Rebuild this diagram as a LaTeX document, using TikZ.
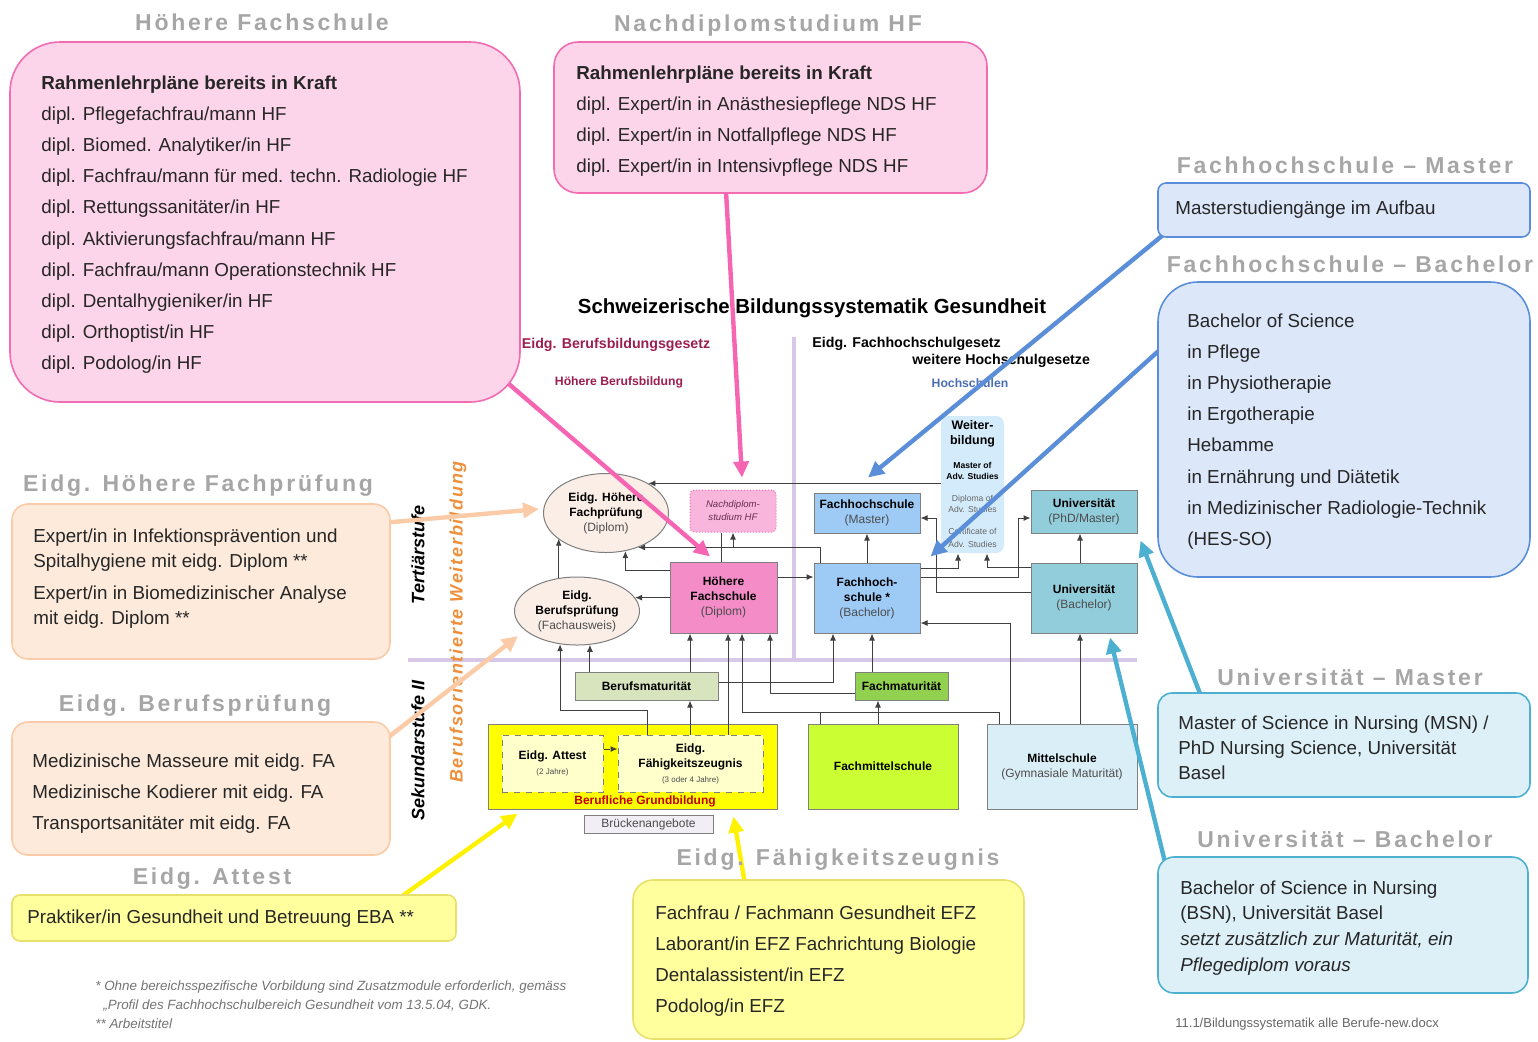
\documentclass[tikz,border=0pt]{standalone}
\usepackage{fontspec}
\setmainfont{Liberation Sans}
\usetikzlibrary{arrows.meta,shapes.geometric}

\definecolor{pinkfill}{HTML}{FDD5EB}
\definecolor{pinkline}{HTML}{F36BB0}
\definecolor{pinkarrow}{HTML}{F665B2}
\definecolor{bluefill}{HTML}{DCE8FA}
\definecolor{blueline}{HTML}{5A8ED8}
\definecolor{tealfill}{HTML}{DDF0F8}
\definecolor{tealline}{HTML}{4DB0D0}
\definecolor{peachfill}{HTML}{FDEADB}
\definecolor{peachline}{HTML}{FBCBA8}
\definecolor{yelfill}{HTML}{FFFF9E}
\definecolor{yelline}{HTML}{E8E06A}
\definecolor{titlegray}{HTML}{A6A6A6}
\definecolor{purp}{HTML}{D6C8E6}
\definecolor{maroon}{HTML}{9B1E50}
\definecolor{hsblue}{HTML}{4A6EB5}
\definecolor{orangetxt}{HTML}{EE8F3C}
\definecolor{nodeline}{HTML}{7F7F7F}
\definecolor{ellfill}{HTML}{FBEEE6}
\definecolor{ndsfill}{HTML}{F8B6DC}
\definecolor{ndstext}{HTML}{6A2D55}
\definecolor{hffill}{HTML}{F48CC8}
\definecolor{fhfill}{HTML}{9DCBF6}
\definecolor{wbfill}{HTML}{D3EBFB}
\definecolor{unifill}{HTML}{92CDDC}
\definecolor{bmfill}{HTML}{D7E4BD}
\definecolor{fmfill}{HTML}{92D050}
\definecolor{bgfill}{HTML}{FFFF00}
\definecolor{attfill}{HTML}{FFFFCC}
\definecolor{bglabel}{HTML}{C00000}
\definecolor{brufill}{HTML}{F2EEF6}
\definecolor{fmsfill}{HTML}{CCFF33}
\definecolor{msfill}{HTML}{DAEEF8}

\pgfdeclarelayer{front}
\pgfsetlayers{main,front}

\newcommand{\paren}[1]{\textcolor{black!70}{#1}}

\tikzset{
  sbox/.style={draw=nodeline, line width=0.5pt, inner sep=0pt, align=center, font=\fontsize{6}{7.5}\selectfont},
  conn/.style={draw=black!75, line width=0.5pt, -{Latex[length=3.5pt,width=3pt]}},
  plain/.style={draw=black!75, line width=0.5pt},
  fat/.style={line width=2.2pt, -{Triangle[length=8pt,width=7.5pt]}},
  cbox/.style={line width=0.8pt, inner sep=0pt},
  ctext/.style={anchor=north west, align=left, inner sep=0pt, text=black!85, font=\fontsize{9.4}{15.6}\selectfont},
  ctitle/.style={inner sep=0pt, text=titlegray, font=\fontsize{11.5}{13}\selectfont\bfseries\addfontfeatures{LetterSpace=12}},
  lawtxt/.style={inner sep=0pt, font=\fontsize{7.1}{8}\selectfont\bfseries},
  stufe/.style={inner sep=0pt, rotate=90, font=\fontsize{9}{10}\selectfont\bfseries\itshape},
  foot/.style={anchor=west, inner sep=0pt, text=black!55, font=\fontsize{6.7}{8}\selectfont\itshape},
}

\begin{document}
\begin{tikzpicture}[x=0.5pt,y=-0.5pt]
\useasboundingbox (0,0) rectangle (1538,1041);

\draw[purp, line width=2pt] (408,660) -- (1137,660);
\draw[purp, line width=2pt] (794,337) -- (794,660);

\node[inner sep=0pt, font=\fontsize{10.2}{12}\selectfont\bfseries] (title) at (812,308) {Schweizerische Bildungssystematik Gesundheit};
\node[lawtxt, text=maroon] (bbg) at (616,345) {Eidg. Berufsbildungsgesetz};
\node[lawtxt, text=maroon, font=\fontsize{6.1}{7}\selectfont\bfseries] (hbb) at (619,382) {Höhere Berufsbildung};
\node[lawtxt, anchor=west] (fhg) at (812,344) {Eidg. Fachhochschulgesetz};
\node[lawtxt, anchor=west] (whg) at (912,361) {weitere Hochschulgesetze};
\node[lawtxt, text=hsblue, font=\fontsize{6.1}{7}\selectfont\bfseries] (hs) at (970,383) {Hochschulen};
\node[stufe] (tert) at (418,555) {Tertiärstufe};
\node[stufe] (sek) at (418,750) {Sekundarstufe II};
\node[stufe, text=orangetxt, font=\fontsize{9}{10}\selectfont\bfseries\itshape\addfontfeatures{LetterSpace=10}] (bow) at (458,622) {Berufsorientierte Weiterbildung};

\node[sbox, ellipse, fill=ellfill, minimum width=62.5pt, minimum height=39.5pt] (hfp) at (606,513) {\textbf{Eidg. Höhere}\\\textbf{Fachprüfung}\\\paren{(Diplom)}};
\node[sbox, ellipse, fill=ellfill, minimum width=62.5pt, minimum height=34pt] (bp) at (577,611) {\textbf{Eidg.}\\\textbf{Berufsprüfung}\\\paren{(Fachausweis)}};
\node[sbox, draw=pinkline, densely dotted, fill=ndsfill, rounded corners=2pt, minimum width=43pt, minimum height=21pt, text=ndstext, font=\fontsize{4.8}{6.5}\selectfont\itshape] (nds) at (733,511) {Nachdiplom-\\studium HF};
\node[sbox, fill=hffill, minimum width=53.5pt, minimum height=35.5pt] (hf) at (723.5,597.5) {\textbf{Höhere}\\\textbf{Fachschule}\\\paren{(Diplom)}};
\node[sbox, fill=fhfill, minimum width=53pt, minimum height=20pt] (fhm) at (867,513) {\textbf{Fachhochschule}\\\paren{(Master)}};
\node[sbox, fill=fhfill, minimum width=53pt, minimum height=35pt] (fhb) at (867,598) {\textbf{Fachhoch-}\\\textbf{schule *}\\\paren{(Bachelor)}};
\node[sbox, draw=none, fill=wbfill, rounded corners=4pt, minimum width=31.5pt, minimum height=68.5pt, font=\fontsize{6.2}{7.5}\selectfont] (wb) at (972.5,484.5)
  {\textbf{Weiter-}\\\textbf{bildung}\\[4.5pt]{\fontsize{4.3}{5}\selectfont\bfseries Master of}\\[-2pt]{\fontsize{4.3}{5}\selectfont\bfseries Adv. Studies}\\[3.5pt]{\fontsize{4.3}{5}\selectfont\color{black!60}Diploma of}\\[-2pt]{\fontsize{4.3}{5}\selectfont\color{black!60}Adv. Studies}\\[3.5pt]{\fontsize{4.3}{5}\selectfont\color{black!60}Certificate of}\\[-1pt]{\fontsize{4.3}{5}\selectfont\color{black!60}Adv. Studies}};
\node[sbox, fill=unifill, minimum width=53pt, minimum height=21.5pt] (uphd) at (1084,511.5) {\textbf{Universität}\\\paren{(PhD/Master)}};
\node[sbox, fill=unifill, minimum width=53pt, minimum height=35pt] (ub) at (1084,598) {\textbf{Universität}\\\paren{(Bachelor)}};
\node[sbox, fill=bmfill, minimum width=71.5pt, minimum height=14pt] (bm) at (646.5,686) {\textbf{Berufsmaturität}};
\node[sbox, fill=fmfill, minimum width=46.5pt, minimum height=14pt] (fm) at (901.5,686) {\textbf{Fachmaturität}};
\node[sbox, fill=bgfill, minimum width=144.5pt, minimum height=42.5pt] (bg) at (632.5,766.5) {};
\node[inner sep=0pt, text=bglabel, font=\fontsize{6}{7}\selectfont\bfseries] (bgl) at (645,801) {Berufliche Grundbildung};
\node[sbox, dashed, fill=attfill, minimum width=50.5pt, minimum height=28.5pt] (att) at (552.5,763.5) {\textbf{Eidg. Attest}\\{\fontsize{4}{5}\selectfont\paren{(2 Jahre)}}};
\node[sbox, dashed, fill=attfill, minimum width=72.5pt, minimum height=28.5pt] (efz) at (690.5,763.5) {\textbf{Eidg.}\\\textbf{Fähigkeitszeugnis}\\{\fontsize{4}{5}\selectfont\paren{(3 oder 4 Jahre)}}};
\node[sbox, fill=brufill, minimum width=64.5pt, minimum height=9pt] (bru) at (648.5,824) {\paren{Brückenangebote}};
\node[sbox, fill=fmsfill, minimum width=75pt, minimum height=42.5pt] (fms) at (883,766.5) {\textbf{Fachmittelschule}};
\node[sbox, fill=msfill, minimum width=75pt, minimum height=42.5pt] (ms) at (1062,766.5) {\textbf{Mittelschule}\\\paren{(Gymnasiale Maturität)}};

\draw[conn] (wb.west |- hfp.35) -- (hfp.35);
\draw[conn] (fhb.north -| 820,0) |- (hfp.-47);
\draw[conn] (nds.south |- hfp.-47) -- (nds.south);
\draw[plain] (hf.north -| 721,0) -- (nds.south -| 721,0);
\draw[conn] (hf.west |- 0,570) -| (hfp.-63);
\draw[conn] (hf.west |- bp.13) -- (bp.13);
\draw[conn] (bp.119) -- (bp.119 |- hfp.-152);
\draw[conn] (hf.east |- 0,577) -- (fhb.west |- 0,577);
\draw[conn] (fhb.north) -- (fhm.south);
\draw[conn] (fhb.east |- 0,568) -| (wb.south -| 958,0);
\draw[conn] (fhb.east |- 0,577) -| (1018,518) -- (uphd.west |- 0,518);
\draw[conn] (ub.west |- 0,567) -| (wb.south -| 987,0);
\draw[conn] (ub.west |- 0,592) -| (936,518) -- (fhm.east |- 0,518);
\draw[conn] (ms.north -| 1010,0) |- (fhb.east |- 0,623);
\draw[conn] (ub.north -| 1080,0) -- (uphd.south -| 1080,0);
\draw[conn] (ms.north -| 1080,0) -- (ub.south -| 1080,0);
\draw[conn] (ms.north -| 999,0) |- (742,712) -- (hf.south -| 742,0);
\draw[plain] (fms.north -| 820,0) -- (820,712);
\draw[conn] (fms.north -| 878,0) -- (fm.south -| 878,0);
\draw[conn] (fm.west |- 0,693) -| (hf.south -| 770,0);
\draw[conn] (bm.east |- 0,682) -| (fhb.south -| 833,0);
\draw[conn] (fm.north -| 872,0) -- (fhb.south -| 872,0);
\draw[conn] (bm.north -| 690,0) -- (hf.south -| 690,0);
\draw[conn] (bm.north -| bp.-69) -- (bp.-69);
\draw[conn] (efz.north -| 647,0) |- (bp.-117 |- 0,710) -- (bp.-117);
\draw[conn] (efz.north -| 690,0) -- (bm.south -| 690,0);
\draw[conn] (efz.north -| 728,0) -- (hf.south -| 728,0);
\draw[conn, dashed] (att.east |- 0,749) -- (efz.west |- 0,749);

\node[foot] (fn1) at (95,987) {* Ohne bereichsspezifische Vorbildung sind Zusatzmodule erforderlich, gemäss};
\node[foot] (fn2) at (103,1005) {„Profil des Fachhochschulbereich Gesundheit vom 13.5.04, GDK.};
\node[foot] (fn3) at (95,1024) {** Arbeitstitel};
\node[anchor=west, inner sep=0pt, text=black!60, font=\fontsize{6.5}{8}\selectfont] (file) at (1175,1024) {11.1/Bildungssystematik alle Berufe-new.docx};

\begin{pgfonlayer}{front}
\node[cbox, draw=pinkline, fill=pinkfill, rounded corners=25pt, minimum width=255pt, minimum height=180pt] (cHF) at (265,222) {};
\node[cbox, draw=pinkline, fill=pinkfill, rounded corners=12pt, minimum width=216.5pt, minimum height=75.5pt] (cNDS) at (770.5,117.5) {};
\node[cbox, draw=blueline, fill=bluefill, rounded corners=4pt, minimum width=186pt, minimum height=27pt] (cFHM) at (1344,210) {};
\node[cbox, draw=blueline, fill=bluefill, rounded corners=20pt, minimum width=186pt, minimum height=147.5pt] (cFHB) at (1344,429.5) {};
\node[cbox, draw=tealline, fill=tealfill, rounded corners=7pt, minimum width=186pt, minimum height=52pt] (cUM) at (1344,745) {};
\node[cbox, draw=tealline, fill=tealfill, rounded corners=8pt, minimum width=185pt, minimum height=68pt] (cUB) at (1343,925) {};
\node[cbox, draw=peachline, fill=peachfill, rounded corners=8pt, minimum width=189pt, minimum height=77.5pt] (cHFP) at (201,581.5) {};
\node[cbox, draw=peachline, fill=peachfill, rounded corners=8pt, minimum width=189pt, minimum height=66.5pt] (cBP) at (201,788.5) {};
\node[cbox, draw=yelline, fill=yelfill, rounded corners=4pt, minimum width=222pt, minimum height=23pt] (cAtt) at (234,918) {};
\node[cbox, draw=yelline, fill=yelfill, rounded corners=10pt, minimum width=195.5pt, minimum height=79.5pt] (cEFZ) at (828.5,959.5) {};

\node[ctext] (tHF) at (41,75) {\textbf{Rahmenlehrpläne bereits in Kraft}\\dipl. Pflegefachfrau/mann HF\\dipl. Biomed. Analytiker/in HF\\dipl. Fachfrau/mann für med. techn. Radiologie HF\\dipl. Rettungssanitäter/in HF\\dipl. Aktivierungsfachfrau/mann HF\\dipl. Fachfrau/mann Operationstechnik HF\\dipl. Dentalhygieniker/in HF\\dipl. Orthoptist/in HF\\dipl. Podolog/in HF};
\node[ctext] (tNDS) at (576,65) {\textbf{Rahmenlehrpläne bereits in Kraft}\\dipl. Expert/in in Anästhesiepflege NDS HF\\dipl. Expert/in in Notfallpflege NDS HF\\dipl. Expert/in in Intensivpflege NDS HF};
\node[ctext, anchor=west] (tFHM) at (1175,210) {Masterstudiengänge im Aufbau};
\node[ctext] (tFHB) at (1187,313) {Bachelor of Science\\in Pflege\\in Physiotherapie\\in Ergotherapie\\Hebamme\\in Ernährung und Diätetik\\in Medizinischer Radiologie-Technik\\(HES-SO)};
\node[ctext, font=\fontsize{9.4}{12.5}\selectfont] (tUM) at (1178,715) {Master of Science in Nursing (MSN) /\\PhD Nursing Science, Universität\\Basel};
\node[ctext, font=\fontsize{9.4}{12.9}\selectfont] (tUB) at (1180,880) {Bachelor of Science in Nursing\\(BSN), Universität Basel\\\textit{setzt zusätzlich zur Maturität, ein}\\\textit{Pflegediplom voraus}};
\node[ctext, font=\fontsize{9.4}{12.5}\selectfont] (tHFP) at (33,528) {Expert/in in Infektionsprävention und\\Spitalhygiene mit eidg. Diplom **\\[3.5pt]Expert/in in Biomedizinischer Analyse\\mit eidg. Diplom **};
\node[ctext] (tBP) at (32,753) {Medizinische Masseure mit eidg. FA\\Medizinische Kodierer mit eidg. FA\\Transportsanitäter mit eidg. FA};
\node[ctext, anchor=west] (tAtt) at (27,919) {Praktiker/in Gesundheit und Betreuung EBA **};
\node[ctext] (tEFZ) at (655,905) {Fachfrau / Fachmann Gesundheit EFZ\\Laborant/in EFZ Fachrichtung Biologie\\Dentalassistent/in EFZ\\Podolog/in EFZ};

\node[ctitle] (hHF) at (262,22) {Höhere Fachschule};
\node[ctitle] (hNDS) at (768,26) {Nachdiplomstudium HF};
\node[ctitle] (hFHM) at (1345,165) {Fachhochschule – Master};
\node[ctitle] (hFHB) at (1350,264) {Fachhochschule – Bachelor};
\node[ctitle] (hUM) at (1350,677) {Universität – Master};
\node[ctitle] (hUB) at (1345,839) {Universität – Bachelor};
\node[ctitle] (hHFP) at (198,486) {Eidg. Höhere Fachprüfung};
\node[ctitle] (hBP) at (195,706) {Eidg. Berufsprüfung};
\node[ctitle] (hAtt) at (212,879) {Eidg. Attest};
\node[ctitle] (hEFZ) at (838,860) {Eidg. Fähigkeitszeugnis};
\end{pgfonlayer}

\draw[fat, pinkarrow] ([shift={(-60,-60)}]cHF.south east) -- ([shift={(-13.5,-5)}]hf.north);
\draw[fat, pinkarrow] ([shift={(-45,-12)}]cNDS.south) -- ([shift={(9,-12)}]nds.north);
\draw[fat, blueline] ([shift={(17,-12)}]cFHM.south west) -- ([shift={(1,-15)}]fhm.north);
\draw[fat, blueline] ([shift={(14,-90)}]cFHB.west) -- ([shift={(10,-6)}]fhb.north east);
\draw[fat, tealline] ([shift={(47,12)}]cUM.north west) -- ([shift={(3,7)}]uphd.south east);
\draw[fat, tealline] ([shift={(10,15)}]cUB.north west) -- ([shift={(26,4)}]ub.south);
\draw[fat, peachline] ([shift={(-15,-58)}]cHFP.east) -- ([shift={(-4,-4)}]hfp.west);
\draw[fat, peachline] ([shift={(-5,18)}]cBP.north east) -- ([shift={(4,25)}]bp.west);
\draw[fat, yellow] ([shift={(-66,10)}]cAtt.north east) -- ([shift={(30,4)}]bg.south west);
\draw[fat, yellow] ([shift={(114,12)}]cEFZ.north west) -- ([shift={(-44,7)}]bg.south east);
\end{tikzpicture}
\end{document}
